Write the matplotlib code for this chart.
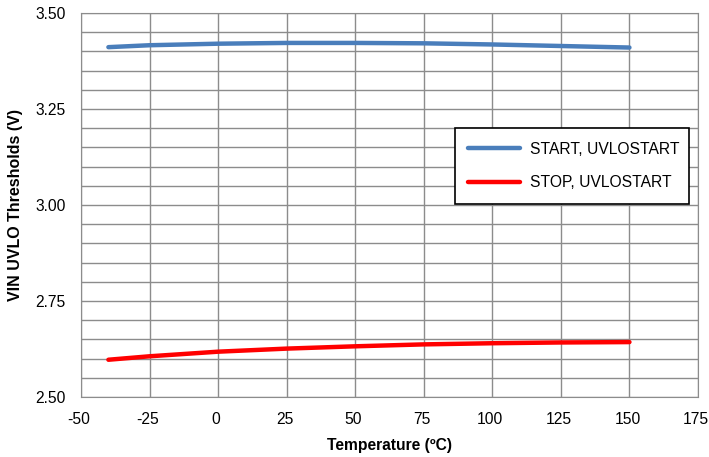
import numpy as np
import matplotlib
matplotlib.use('Agg')
import matplotlib.pyplot as plt
import matplotlib.transforms as mtransforms

plt.rcParams['font.family'] = ['Liberation Sans', 'DejaVu Sans']
plt.rcParams['axes.unicode_minus'] = False

# temperatures (C)
temp = [-40, -25, 0, 25, 50, 75, 100, 125, 150]
# UVLO thresholds (V)
v_start = [3.411, 3.416, 3.420, 3.422, 3.422, 3.421, 3.418, 3.414, 3.410]
v_stop = [2.597, 2.606, 2.618, 2.626, 2.632, 2.637, 2.640, 2.642, 2.643]

xticks = [-50, -25, 0, 25, 50, 75, 100, 125, 150, 175]
yticks = [2.50, 2.75, 3.00, 3.25, 3.50]

fig = plt.figure(figsize=(7.09, 4.57), dpi=100)
ax = fig.add_axes([0.1142, 0.1313, 0.8703, 0.8403])

ax.plot(temp, v_start, color='#4a7ebb', lw=3.2, solid_capstyle='round', label='START, UVLOSTART')
ax.plot(temp, v_stop, color='#ff0000', lw=3.2, solid_capstyle='round', label='STOP, UVLOSTART')

ax.set_xlim(-50, 175)
ax.set_ylim(2.5, 3.5)
ax.set_xticks(xticks)
ax.set_yticks(yticks)
ax.set_yticklabels(['%.2f' % y for y in yticks])
ax.set_yticks(np.arange(2.5, 3.5001, 0.05), minor=True)
ax.grid(True, which='major', color='#8c8c8c', lw=1)
ax.grid(True, which='minor', axis='y', color='#8c8c8c', lw=1)
ax.tick_params(which='both', length=0, labelsize=11.25)
ax.tick_params(axis='x', pad=11)
ax.tick_params(axis='y', pad=11)
for s in ax.spines.values():
    s.set_color('#8c8c8c')
ax.set_axisbelow(True)

# x tick labels sit a little left of their gridlines
shift = mtransforms.ScaledTranslation(-2 / 100, 0, fig.dpi_scale_trans)
for lab in ax.get_xticklabels():
    lab.set_transform(lab.get_transform() + shift)

ax.set_xlabel('Temperature (ºC)', fontsize=11.25, fontweight='bold', labelpad=8)
ax.set_ylabel('VIN UVLO Thresholds (V)', fontsize=11.5, fontweight='bold', labelpad=9)

leg = ax.legend(loc='center', bbox_to_anchor=(0.606, 0.5, 0.38, 0.203), mode='expand',
                fontsize=11.25, frameon=True, fancybox=False, handlelength=3.3,
                borderpad=0.85, labelspacing=1.2, handletextpad=0.65, borderaxespad=0)
leg.get_frame().set_edgecolor('black')
leg.get_frame().set_linewidth(1.2)
leg.get_frame().set_alpha(1)

fig.savefig('out.png', dpi=100)
